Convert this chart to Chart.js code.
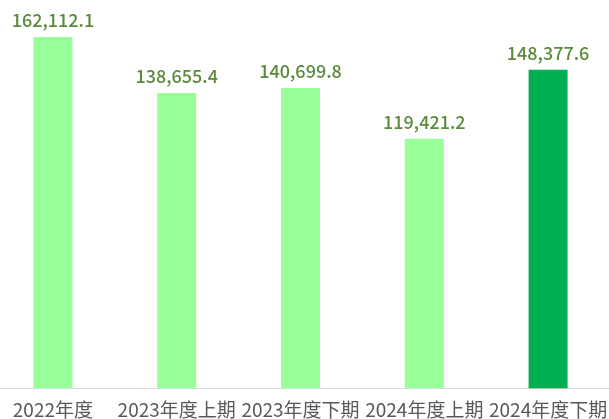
<!DOCTYPE html>
<html>
<head>
<meta charset="utf-8">
<script src="https://cdn.jsdelivr.net/npm/chart.js@4"></script>
<style>
    html, body { margin: 0; padding: 0; background: #fff; overflow: hidden; }
    #wrap { position: absolute; left: -9px; top: 4px; width: 619px; height: 419px; }
</style>
</head>
<body>
<div id="wrap"><canvas id="chart"></canvas></div>
<script>
// Chart data
const periods = ['2022年度', '2023年度上期', '2023年度下期', '2024年度上期', '2024年度下期'];
const amounts = [162112.1, 138655.4, 140699.8, 119421.2, 148377.6];
const barColors = ['#99ff99', '#99ff99', '#99ff99', '#99ff99', '#00b050'];

// Draw the value above each bar
const valueLabels = {
    id: 'valueLabels',
    afterDatasetsDraw(chart) {
        const ctx = chart.ctx;
        const meta = chart.getDatasetMeta(0);
        ctx.save();
        ctx.font = '500 18px "Noto Sans CJK SC", "Noto Sans", sans-serif';
        ctx.fillStyle = '#5b8a3c';
        ctx.textAlign = 'center';
        ctx.textBaseline = 'alphabetic';
        meta.data.forEach((bar, i) => {
            const text = amounts[i].toLocaleString('en-US', { minimumFractionDigits: 1, maximumFractionDigits: 1 });
            ctx.fillText(text, bar.x, bar.y - 10);
        });
        ctx.restore();
    }
};

new Chart(document.getElementById('chart'), {
    type: 'bar',
    data: {
        labels: periods,
        datasets: [{
            data: amounts,
            backgroundColor: barColors,
            borderWidth: 0,
            categoryPercentage: 1,
            barPercentage: 0.315
        }]
    },
    options: {
        responsive: true,
        maintainAspectRatio: false,
        animation: false,
        layout: { padding: 0 },
        plugins: {
            legend: { display: false },
            tooltip: { enabled: false }
        },
        scales: {
            x: {
                grid: { display: false },
                border: { display: true, color: '#d9d9d9', width: 1 },
                ticks: {
                    color: '#595959',
                    maxRotation: 0,
                    autoSkip: false,
                    padding: 2,
                    font: { size: 19, family: '"Noto Sans CJK SC", "Noto Sans", sans-serif' }
                }
            },
            y: {
                display: false,
                min: 15000,
                max: 175900
            }
        }
    },
    plugins: [valueLabels]
});
</script>
</body>
</html>
